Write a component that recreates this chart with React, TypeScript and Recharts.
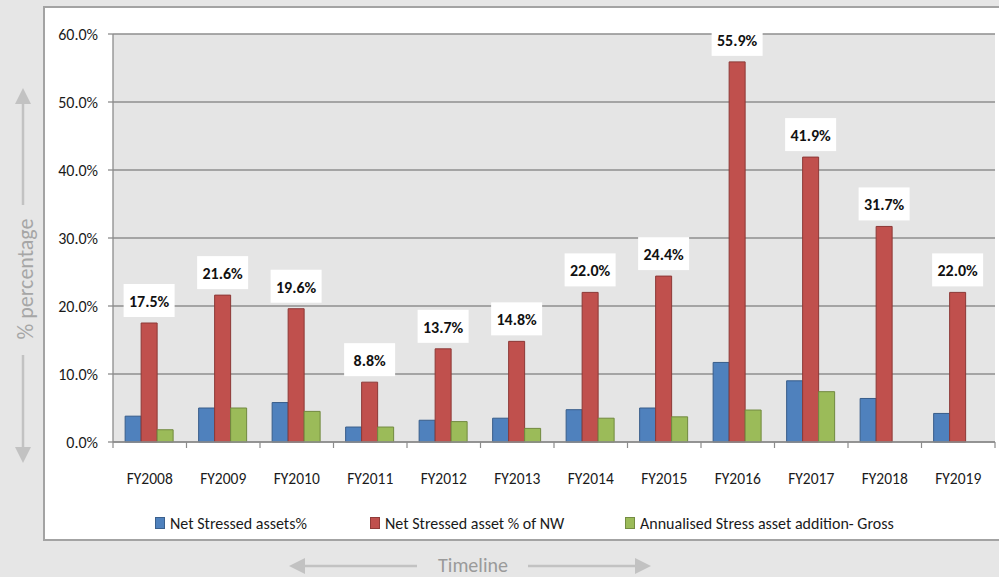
import React from 'react';
import { BarChart, Bar, XAxis, YAxis, CartesianGrid, Legend, LabelList } from 'recharts';

const categories = ['FY2008', 'FY2009', 'FY2010', 'FY2011', 'FY2012', 'FY2013', 'FY2014', 'FY2015', 'FY2016', 'FY2017', 'FY2018', 'FY2019'];
const netStressed = [3.8, 5.0, 5.8, 2.2, 3.2, 3.5, 4.75, 5.0, 11.7, 9.0, 6.4, 4.2];
const netStressedNW = [17.5, 21.6, 19.6, 8.8, 13.7, 14.8, 22.0, 24.4, 55.9, 41.9, 31.7, 22.0];
const annualised: (number | null)[] = [1.8, 5.0, 4.5, 2.2, 3.0, 2.0, 3.5, 3.7, 4.7, 7.4, null, null];
const yTicks = [0, 10, 20, 30, 40, 50, 60];
const seriesKeys = ['a', 'b', 'c'];

const data = categories.map((c, i) => ({
  name: c,
  a: netStressed[i],
  b: netStressedNW[i],
  c: annualised[i],
}));

const FONT = "Carlito, 'Liberation Sans Narrow', 'DejaVu Sans Condensed', 'Liberation Sans', sans-serif";

const XTick = (props: any) => {
  const { x, y, payload, index } = props;
  const half = payload && typeof payload.offset === 'number' ? payload.offset : 36.75;
  return (
    <g>
      <line x1={x - half} x2={x - half} y1={y} y2={y + 6} stroke="#8c8c8c" strokeWidth={1.2} />
      {index === categories.length - 1 && (
        <line x1={x + half} x2={x + half} y1={y} y2={y + 6} stroke="#8c8c8c" strokeWidth={1.2} />
      )}
      <text x={x} y={y + 42} textAnchor="middle" fontSize={15.5} fill="#1a1a1a" fontFamily={FONT}>
        {payload.value}
      </text>
    </g>
  );
};

const RedLabel = (props: any) => {
  const { x, y, width, value } = props;
  if (value == null) return null;
  const cx = x + width / 2;
  const bw = 51;
  const bh = 33;
  const top = y - 6 - bh;
  return (
    <g>
      <rect x={cx - bw / 2} y={top} width={bw} height={bh} fill="#ffffff" />
      <text x={cx} y={top + bh / 2 + 6.5} textAnchor="middle" fontSize={16} fontWeight="bold" fill="#111" fontFamily={FONT}>
        {Number(value).toFixed(1)}%
      </text>
    </g>
  );
};

const legendLefts = [155, 370, 625];

const LegendContent = (props: any) => {
  const { payload } = props;
  const items = [...(payload || [])].sort(
    (p: any, q: any) => seriesKeys.indexOf(String(p.dataKey)) - seriesKeys.indexOf(String(q.dataKey))
  );
  return (
    <div style={{ position: 'relative', width: 999, height: 24, fontFamily: FONT }}>
      {items.map((p: any, i: number) => (
        <div key={i} style={{ position: 'absolute', left: legendLefts[i], top: 0, display: 'flex', alignItems: 'center', height: 22 }}>
          <span style={{ display: 'inline-block', width: 8, height: 10, background: p.color, border: '1px solid rgba(0,0,0,0.25)', marginRight: 5 }} />
          <span style={{ fontSize: 16, color: '#1a1a1a', whiteSpace: 'nowrap' }}>{p.value}</span>
        </div>
      ))}
    </div>
  );
};

export default function App() {
  return (
    <div style={{ position: 'fixed', left: 0, top: 0, width: 999, height: 577, background: '#e6e6e6', overflow: 'hidden' }}>
      <div style={{ position: 'absolute', left: 43, top: 6, width: 980, height: 535, background: '#ffffff', border: '2px solid #a3a3a3', boxSizing: 'border-box' }} />
      <svg width={999} height={577} style={{ position: 'absolute', left: 0, top: 0 }}>
        <g stroke="#c2c2c2" strokeWidth={2.5} fill="#c2c2c2">
          <line x1={23} x2={23} y1={103} y2={205} />
          <polygon points="23,88 15,104 31,104" stroke="none" />
          <line x1={23} x2={23} y1={355} y2={448} />
          <polygon points="23,463 15,447 31,447" stroke="none" />
          <line x1={304} x2={417} y1={566} y2={566} />
          <polygon points="289,566 305,558 305,574" stroke="none" />
          <line x1={528} x2={636} y1={566} y2={566} />
          <polygon points="651,566 635,558 635,574" stroke="none" />
        </g>
        <text x={25} y={279} transform="rotate(-90 25 279)" textAnchor="middle" dominantBaseline="central" fontSize={22} fill="#a6a6a6" fontFamily={FONT}>
          % percentage
        </text>
        <text x={473} y={565} textAnchor="middle" dominantBaseline="central" fontSize={20} fill="#9a9a9a" fontFamily={FONT}>
          Timeline
        </text>
      </svg>
      <div style={{ position: 'absolute', left: 0, top: 0 }}>
        <BarChart
          width={999}
          height={577}
          data={data}
          margin={{ top: 34, right: 4, bottom: 85, left: 48 }}
          barCategoryGap="16.5%"
          barGap={0}
          style={{ fontFamily: FONT }}
        >
          <CartesianGrid vertical={false} horizontal={true} stroke="#8e8e8e" strokeWidth={1.3} fill="#e5e5e5" fillOpacity={1} />
          <XAxis
            dataKey="name"
            interval={0}
            height={50}
            tickLine={false}
            tickSize={0}
            tickMargin={0}
            axisLine={{ stroke: '#8c8c8c', strokeWidth: 1.3 }}
            tick={<XTick />}
          />
          <YAxis
            width={65}
            domain={[0, 60]}
            ticks={yTicks}
            interval={0}
            tickSize={5}
            tickMargin={10}
            tickFormatter={(v: number) => v.toFixed(1) + '%'}
            axisLine={{ stroke: '#8c8c8c', strokeWidth: 1.3 }}
            tickLine={{ stroke: '#8c8c8c', strokeWidth: 1.3 }}
            tick={{ fontSize: 16, fill: '#1a1a1a', fontFamily: FONT }}
          />
          <Legend
            layout="horizontal"
            verticalAlign="middle"
            align="center"
            itemSorter={null as any}
            wrapperStyle={{ left: 0, top: 512, width: 999, height: 24 }}
            content={<LegendContent />}
          />
          <Bar dataKey="a" name="Net Stressed assets%" fill="#4f81bd" stroke="#385d8a" strokeWidth={1} isAnimationActive={false} />
          <Bar dataKey="b" name="Net Stressed asset % of NW" fill="#c0504d" stroke="#8c3836" strokeWidth={1} isAnimationActive={false}>
            <LabelList dataKey="b" content={<RedLabel />} />
          </Bar>
          <Bar dataKey="c" name="Annualised Stress asset addition- Gross" fill="#9bbb59" stroke="#71893f" strokeWidth={1} isAnimationActive={false} />
        </BarChart>
      </div>
    </div>
  );
}
